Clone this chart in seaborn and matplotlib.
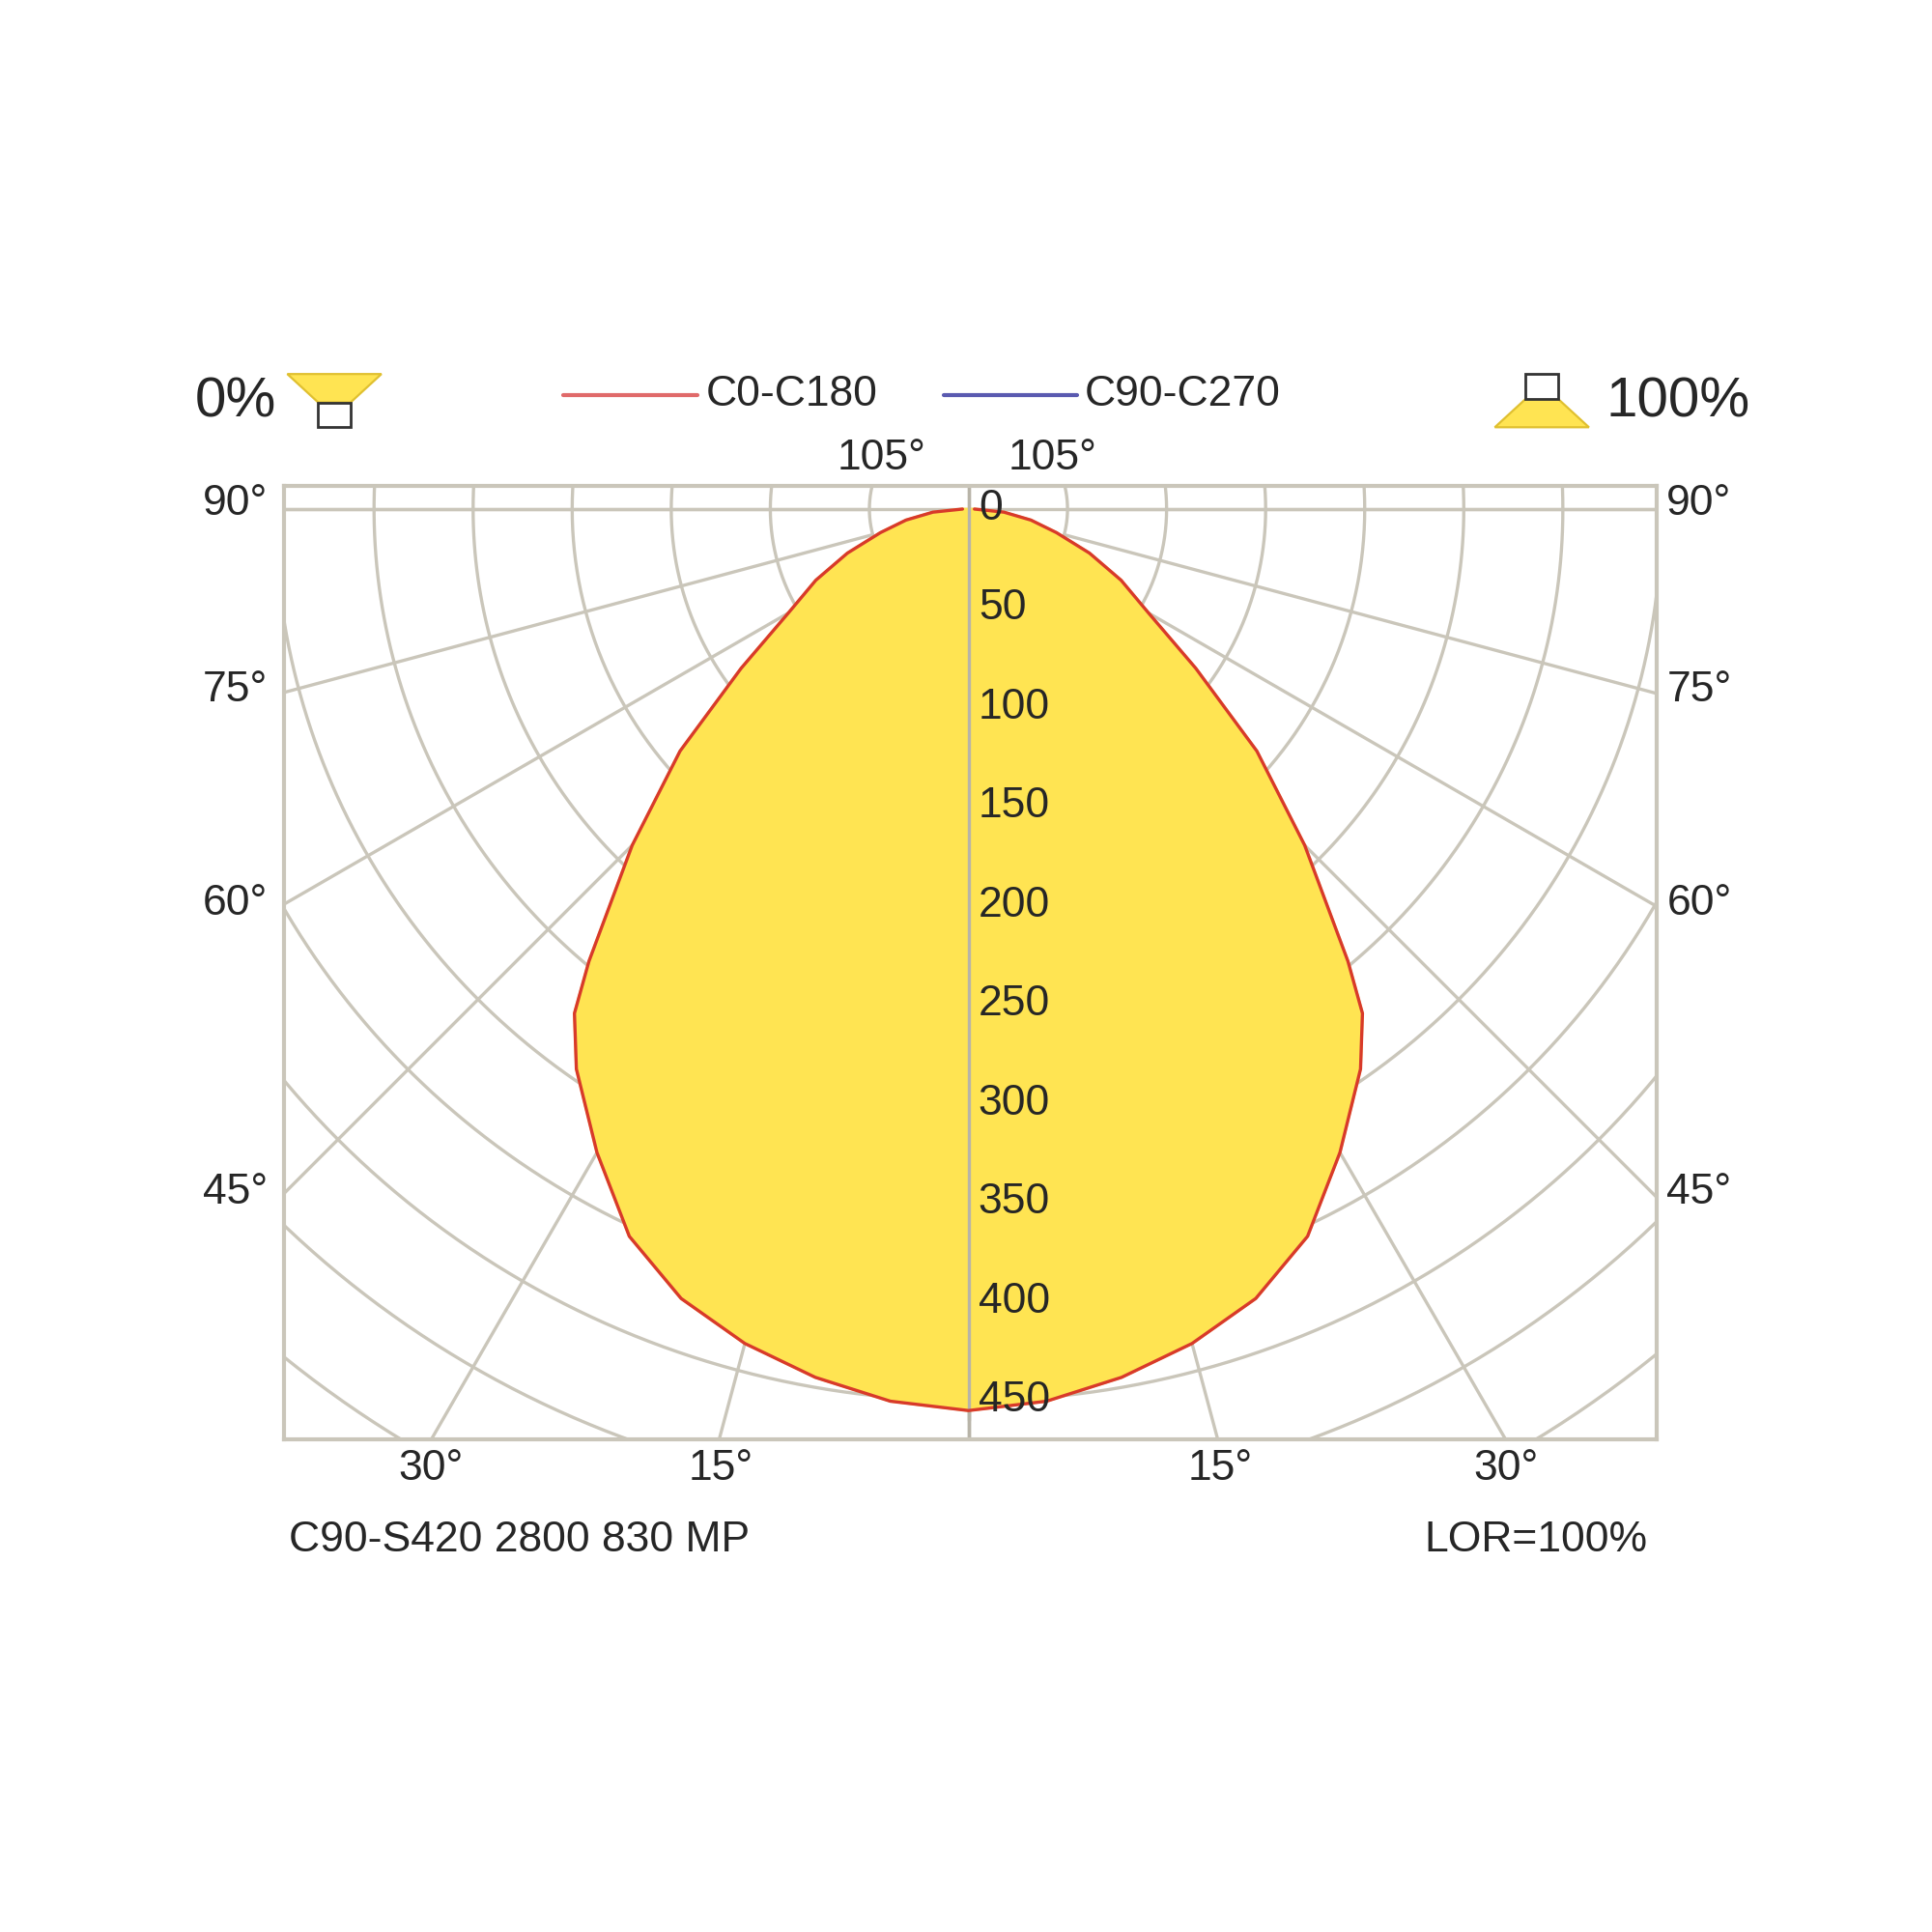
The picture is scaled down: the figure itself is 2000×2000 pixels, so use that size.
import numpy as np
import matplotlib.pyplot as plt
import matplotlib.patches as mpatches
import seaborn as sns
import pandas as pd

sns.set_style("white")
plt.rcParams["font.family"] = ["Liberation Sans", "DejaVu Sans"]

# intensity (cd) by angle from nadir (C0-C180 and C90-C270 coincide)
angles = [0, 5, 10, 15, 20, 25, 30, 35, 38, 40, 45, 50, 55, 60, 65, 70, 75, 80, 85, 90]
intensity = [455, 452, 445, 436, 424, 405, 375, 345, 323, 298, 240, 190, 140, 105, 85, 65, 46, 32, 18, 3]
ring_values = [50, 100, 150, 200, 250, 300, 350, 400, 450]
grid_angles = [0, 15, 30, 45, 60, 75, 90, 105]
side_labels = ["90°", "75°", "60°", "45°"]
side_label_y = [407, 557, 730, 963]
bottom_labels = ["30°", "15°", "15°", "30°"]
bottom_label_x = [348, 582, 985, 1216]

S = 1560.0
def fx(x): return x / S
def fy(y): return 1 - y / S

fig = plt.figure(figsize=(10, 10), dpi=200)
ax = fig.add_axes([fx(229), fy(1162), fx(1338) - fx(229), fy(392) - fy(1162)])

grid_c = "#CAC6BA"
# rings
t = np.linspace(0, 2 * np.pi, 721)
for r in list(range(50, 651, 50)):
    ax.plot(r * np.sin(t), -r * np.cos(t), color=grid_c, lw=1.2, zorder=1)
# radial lines
for a in grid_angles:
    th = np.radians(a)
    for s in (-1, 1):
        ax.plot([s * 50 * np.sin(th), s * 800 * np.sin(th)],
                [-50 * np.cos(th), -800 * np.cos(th)], color=grid_c, lw=1.2, zorder=1)
ax.axhline(0, color=grid_c, lw=1.2, zorder=1)
ax.axvline(0, color="#B8B4A8", lw=1.2, zorder=1)

# curve, mirrored
th = np.radians(np.array(angles, dtype=float))
r = np.array(intensity, dtype=float)
xs = np.concatenate([-(r * np.sin(th))[::-1], (r * np.sin(th))[1:]])
ys = np.concatenate([(-r * np.cos(th))[::-1], (-r * np.cos(th))[1:]])
ax.fill(xs, ys, color="#FFE452", zorder=2)
df = pd.DataFrame({"x": xs, "y": ys})
sns.lineplot(data=df, x="x", y="y", sort=False, color="#D83A2A", lw=1.2, ax=ax, zorder=3)
ax.axvline(0, ymin=0.02, color="#B8B4A8", lw=1.2, zorder=2.5)

ax.text(5, 0, "0", fontsize=16, va="center", ha="left", zorder=4)
for v in ring_values:
    ax.text(5, -v, str(v), fontsize=16, va="center", ha="left", zorder=4)

ax.set_xlim(-345.6, 347.5)
ax.set_ylim(-469.4, 11.9)
ax.set_aspect("equal")
ax.set_xticks([]); ax.set_yticks([])
ax.set_xlabel(""); ax.set_ylabel("")
for sp in ax.spines.values():
    sp.set_color(grid_c); sp.set_linewidth(1.5)

for lab, y in zip(side_labels, side_label_y):
    fig.text(fx(190), fy(y), lab, fontsize=16, ha="center", va="center")
    fig.text(fx(1372), fy(y), lab, fontsize=16, ha="center", va="center")
for lab, x in zip(bottom_labels, bottom_label_x):
    fig.text(fx(x), fy(1186), lab, fontsize=16, ha="center", va="center")
fig.text(fx(712), fy(370), "105°", fontsize=16, ha="center", va="center")
fig.text(fx(850), fy(370), "105°", fontsize=16, ha="center", va="center")
fig.text(fx(233), fy(1244), "C90-S420 2800 830 MP", fontsize=16, ha="left", va="center")
fig.text(fx(1330), fy(1244), "LOR=100%", fontsize=16, ha="right", va="center")

# legend
fig.add_artist(plt.Line2D([fx(455), fx(563)], [fy(319), fy(319)], color="#E06A6A", lw=1.5))
fig.text(fx(570), fy(319), "C0-C180", fontsize=16, ha="left", va="center")
fig.add_artist(plt.Line2D([fx(762), fx(870)], [fy(319), fy(319)], color="#5A5AB0", lw=1.5))
fig.text(fx(876), fy(319), "C90-C270", fontsize=16, ha="left", va="center")
fig.text(fx(190), fy(325), "0%", fontsize=21, ha="center", va="center")
fig.text(fx(1355), fy(325), "100%", fontsize=21, ha="center", va="center")

def poly(pts, **kw):
    fig.add_artist(mpatches.Polygon([(fx(x), fy(y)) for x, y in pts], closed=True,
                                    transform=fig.transFigure, **kw))
poly([(232, 302), (308, 302), (283, 325), (257, 325)], facecolor="#FFE452", edgecolor="#E0C030", lw=0.8)
poly([(257, 325), (283, 325), (283, 345), (257, 345)], facecolor="white", edgecolor="#333333", lw=1)
poly([(1207, 345), (1283, 345), (1258, 322), (1232, 322)], facecolor="#FFE452", edgecolor="#E0C030", lw=0.8)
poly([(1232, 302), (1258, 302), (1258, 322), (1232, 322)], facecolor="white", edgecolor="#333333", lw=1)

fig.savefig("out.png", dpi=200, facecolor="white")
